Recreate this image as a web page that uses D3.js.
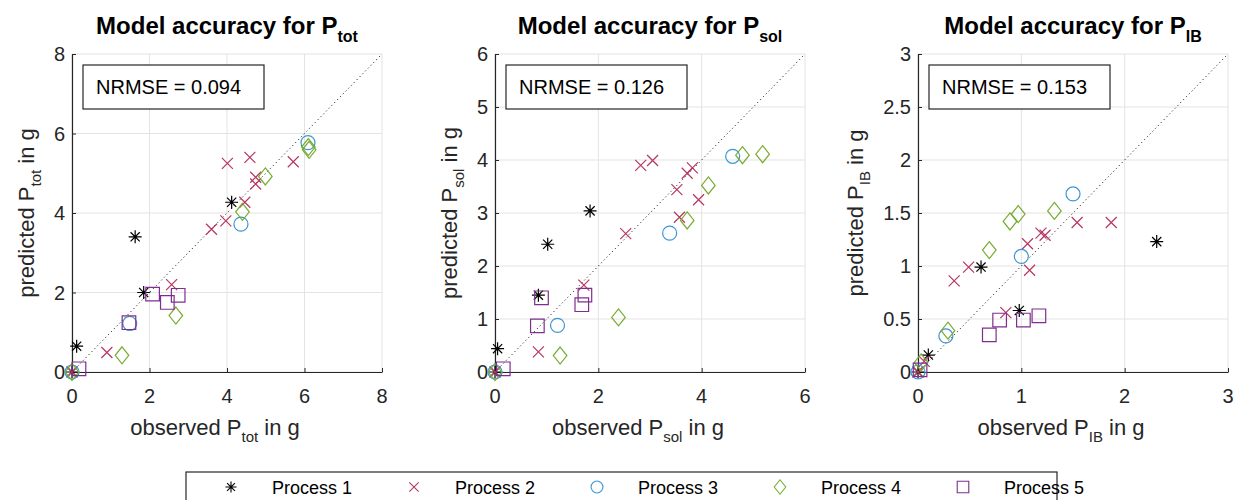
<!DOCTYPE html>
<html>
<head>
<meta charset="utf-8">
<script src="https://cdn.jsdelivr.net/npm/d3@7"></script>
<style>
  html, body { margin: 0; padding: 0; background: #fff; }
  svg { display: block; font-family: "Liberation Sans", Arial, Helvetica, sans-serif; }
</style>
</head>
<body>
<svg id="chart" width="1235" height="500"></svg>
<script>
// ---- data -----------------------------------------------------------
const processNames = ["Process 1", "Process 2", "Process 3", "Process 4", "Process 5"];
const quantities = ["tot", "sol", "IB"];
const nrmseValues = ["0.094", "0.126", "0.153"];
const axisMax = [8, 6, 3];
const xTickValues = [[0, 2, 4, 6, 8], [0, 2, 4, 6], [0, 1, 2, 3]];
const yTickValues = [[0, 2, 4, 6, 8], [0, 1, 2, 3, 4, 5, 6], [0, 0.5, 1, 1.5, 2, 2.5, 3]];

// P_tot: observed / predicted per process
const totObserved = [
  [0, 0.12, 1.63, 1.85, 4.12],
  [0, 0.90, 2.57, 3.60, 3.97, 4.01, 4.46, 4.59, 4.74, 4.74, 5.71],
  [0, 1.49, 4.36, 6.09],
  [0, 1.29, 2.68, 4.40, 4.99, 6.10, 6.12],
  [0.18, 1.47, 2.08, 2.46, 2.74]
];
const totPredicted = [
  [0, 0.65, 3.40, 2.00, 4.27],
  [0, 0.49, 2.20, 3.59, 3.80, 5.25, 4.27, 5.40, 4.90, 4.73, 5.29],
  [0, 1.22, 3.72, 5.77],
  [0, 0.42, 1.42, 4.03, 4.92, 5.66, 5.59],
  [0.08, 1.24, 1.96, 1.75, 1.93]
];

// P_sol
const solObserved = [
  [0, 0.05, 0.84, 1.02, 1.84],
  [0, 0.84, 1.72, 2.53, 2.82, 3.05, 3.52, 3.57, 3.72, 3.82, 3.94],
  [0, 1.21, 3.38, 4.60],
  [0, 1.26, 2.39, 3.72, 4.13, 4.79, 5.18],
  [0.16, 0.82, 0.90, 1.68, 1.74]
];
const solPredicted = [
  [0, 0.44, 1.45, 2.41, 3.04],
  [0, 0.38, 1.64, 2.61, 3.90, 3.99, 3.44, 2.92, 3.75, 3.85, 3.25],
  [0, 0.88, 2.62, 4.07],
  [0, 0.31, 1.03, 2.86, 3.52, 4.09, 4.11],
  [0.06, 0.87, 1.40, 1.27, 1.45]
];

// P_IB
const ibObserved = [
  [0, 0.10, 0.61, 0.98, 2.31],
  [0, 0.06, 0.35, 0.49, 0.85, 1.06, 1.08, 1.19, 1.23, 1.54, 1.87],
  [0, 0.27, 1.00, 1.50],
  [0.03, 0.29, 0.69, 0.89, 0.97, 1.32],
  [0.02, 0.69, 0.79, 1.02, 1.17]
];
const ibPredicted = [
  [0, 0.16, 0.99, 0.58, 1.23],
  [0, 0.10, 0.86, 0.99, 0.56, 1.21, 0.96, 1.31, 1.29, 1.41, 1.41],
  [0, 0.34, 1.09, 1.68],
  [0.09, 0.39, 1.15, 1.42, 1.49, 1.52],
  [0.02, 0.35, 0.49, 0.49, 0.53]
];

const observedSets = [totObserved, solObserved, ibObserved];
const predictedSets = [totPredicted, solPredicted, ibPredicted];

// ---- styling ----------------------------------------------------------
const colors = ["#000000", "#B8375F", "#3A96D2", "#77AC30", "#7E2F8E"];
const axisColor = "#262626";
const gridColor = "#e3e3e3";

// Marker shapes as d3 symbol types (size = half-extent in px)
const asterisk = { draw(ctx, s) {
  const d = s * Math.SQRT1_2;
  ctx.moveTo(-s, 0); ctx.lineTo(s, 0);
  ctx.moveTo(0, -s); ctx.lineTo(0, s);
  ctx.moveTo(-d, -d); ctx.lineTo(d, d);
  ctx.moveTo(-d, d); ctx.lineTo(d, -d);
}};
const times = { draw(ctx, s) {
  ctx.moveTo(-s, -s); ctx.lineTo(s, s);
  ctx.moveTo(-s, s); ctx.lineTo(s, -s);
}};
const circle = { draw(ctx, s) {
  ctx.moveTo(s, 0); ctx.arc(0, 0, s, 0, 2 * Math.PI);
}};
const diamond = { draw(ctx, s) {
  const h = s * 1.25;
  ctx.moveTo(0, -h); ctx.lineTo(s, 0); ctx.lineTo(0, h); ctx.lineTo(-s, 0); ctx.closePath();
}};
const square = { draw(ctx, s) {
  ctx.rect(-s, -s, 2 * s, 2 * s);
}};
const shapes = [asterisk, times, circle, diamond, square];
const shapeSizes = [6.5, 5.5, 7, 6.8, 6.8];

const symbolPath = (i, k = 1) => d3.symbol().type(shapes[i]).size(shapeSizes[i] * k)();

// ---- layout -----------------------------------------------------------
const svg = d3.select("#chart");
const panelLeft = [72, 495, 918];
const plotW = 310, plotTop = 54, plotH = 318;

const fmt = v => String(v);

function richText(sel, pre, sub, post, subSize, subShift) {
  sel.append("tspan").text(pre);
  sel.append("tspan").attr("font-size", subSize).attr("dy", subShift).text(sub);
  if (post) sel.append("tspan").attr("dy", -subShift).text(post);
}

quantities.forEach((q, p) => {
  const x0 = panelLeft[p];
  const x = d3.scaleLinear().domain([0, axisMax[p]]).range([x0, x0 + plotW]);
  const y = d3.scaleLinear().domain([0, axisMax[p]]).range([plotTop + plotH, plotTop]);
  const g = svg.append("g");

  // grid
  g.append("g").selectAll("line").data(xTickValues[p]).join("line")
    .attr("x1", d => x(d)).attr("x2", d => x(d))
    .attr("y1", plotTop).attr("y2", plotTop + plotH)
    .attr("stroke", gridColor).attr("stroke-width", 1);
  g.append("g").selectAll("line").data(yTickValues[p]).join("line")
    .attr("y1", d => y(d)).attr("y2", d => y(d))
    .attr("x1", x0).attr("x2", x0 + plotW)
    .attr("stroke", gridColor).attr("stroke-width", 1);

  // axes (ticks pointing inward)
  const xAxis = d3.axisTop(x).tickValues(xTickValues[p]).tickFormat("").tickSize(4).tickSizeOuter(0);
  const yAxis = d3.axisRight(y).tickValues(yTickValues[p]).tickFormat("").tickSize(4).tickSizeOuter(0);
  const gx = g.append("g").attr("transform", `translate(0,${plotTop + plotH})`).call(xAxis);
  const gy = g.append("g").attr("transform", `translate(${x0},0)`).call(yAxis);
  [gx, gy].forEach(a => {
    a.select(".domain").attr("stroke", axisColor).attr("stroke-width", 1.2);
    a.selectAll(".tick line").attr("stroke", axisColor);
  });

  // tick labels
  g.append("g").selectAll("text").data(xTickValues[p]).join("text")
    .attr("x", d => x(d)).attr("y", plotTop + plotH + 31)
    .attr("text-anchor", "middle").attr("font-size", 20).attr("fill", axisColor)
    .text(fmt);
  const yLabels = g.append("g").selectAll("text").data(yTickValues[p]).join("text")
    .attr("x", x0 - 7).attr("y", d => y(d)).attr("dy", "0.35em")
    .attr("text-anchor", "end").attr("font-size", 20).attr("fill", axisColor)
    .text(fmt);
  let maxW = 0;
  yLabels.each(function () { maxW = Math.max(maxW, this.getBBox().width); });

  // identity line
  g.append("line")
    .attr("x1", x(0)).attr("y1", y(0)).attr("x2", x(axisMax[p])).attr("y2", y(axisMax[p]))
    .attr("stroke", "#000").attr("stroke-width", 1).attr("stroke-dasharray", "1,3");

  // markers
  processNames.forEach((name, i) => {
    const obs = observedSets[p][i], pred = predictedSets[p][i];
    g.append("g").selectAll("path").data(obs.map((o, k) => [o, pred[k]])).join("path")
      .attr("transform", d => `translate(${x(d[0])},${y(d[1])})`)
      .attr("d", symbolPath(i))
      .attr("fill", "none").attr("stroke", colors[i]).attr("stroke-width", 1.2);
  });

  // title
  const t = g.append("text").attr("x", x0 + plotW / 2).attr("y", 34)
    .attr("text-anchor", "middle").attr("font-size", 24).attr("font-weight", "bold").attr("fill", "#000");
  richText(t, "Model accuracy for P", q, null, 16, 8);

  // x label
  const xl = g.append("text").attr("x", x0 + plotW / 2 - 12).attr("y", 435)
    .attr("text-anchor", "middle").attr("font-size", 22).attr("fill", axisColor);
  richText(xl, "observed P", q, " in g", 15, 7);

  // y label
  const yx = x0 - maxW - 7 - 20;
  const yc = plotTop + plotH / 2;
  const yl = g.append("text").attr("transform", `translate(${yx},${yc}) rotate(-90)`)
    .attr("text-anchor", "middle").attr("font-size", 22).attr("fill", axisColor);
  richText(yl, "predicted P", q, " in g", 15, 7);

  // NRMSE annotation
  const bx = x0 + 11, by = plotTop + 11;
  g.append("rect").attr("x", bx).attr("y", by).attr("width", 181).attr("height", 44)
    .attr("fill", "#fff").attr("stroke", axisColor).attr("stroke-width", 1.2);
  g.append("text").attr("x", bx + 13).attr("y", by + 22).attr("dy", "0.35em")
    .attr("font-size", 20).attr("fill", "#000").text(`NRMSE = ${nrmseValues[p]}`);
});

// ---- legend -------------------------------------------------------------
const legend = svg.append("g");
legend.append("rect").attr("x", 186).attr("y", 472).attr("width", 871).attr("height", 34)
  .attr("fill", "#fff").attr("stroke", axisColor).attr("stroke-width", 1.2);
const legendX = d3.scalePoint().domain(processNames).range([231, 963]);
processNames.forEach((name, i) => {
  const lx = legendX(name);
  legend.append("path").attr("transform", `translate(${lx},487)`)
    .attr("d", symbolPath(i, 0.85)).attr("fill", "none").attr("stroke", colors[i]).attr("stroke-width", 1.1);
  legend.append("text").attr("x", lx + 41).attr("y", 494)
    .attr("font-size", 18).attr("fill", "#000").text(name);
});
</script>
</body>
</html>
